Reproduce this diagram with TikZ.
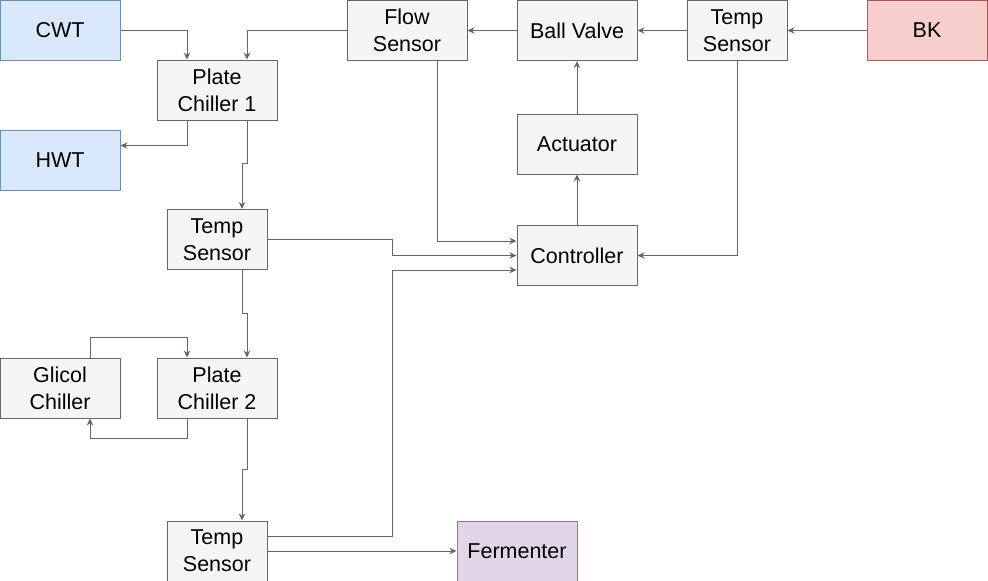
\documentclass[tikz,border=0pt]{standalone}
\usepackage{fontspec}
\setmainfont{Liberation Sans}
\usetikzlibrary{arrows.meta}
\definecolor{grayfill}{HTML}{F5F5F5}
\definecolor{graystroke}{HTML}{666666}
\definecolor{bluefill}{HTML}{DAE8FC}
\definecolor{bluestroke}{HTML}{6C8EBF}
\definecolor{redfill}{HTML}{F8CECC}
\definecolor{redstroke}{HTML}{B85450}
\definecolor{purplefill}{HTML}{E1D5E7}
\definecolor{purplestroke}{HTML}{9673A6}
\definecolor{linecol}{HTML}{666666}
\tikzset{
  box/.style={draw=graystroke, fill=grayfill, line width=1pt, minimum width=120pt, minimum height=60pt,
    inner sep=0pt, align=center, font=\fontsize{21.5}{27}\selectfont, text=black},
  narrow/.style={box, minimum width=100pt},
  bluebox/.style={box, draw=bluestroke, fill=bluefill},
  redbox/.style={box, draw=redstroke, fill=redfill},
  purplebox/.style={box, draw=purplestroke, fill=purplefill},
  conn/.style={draw=linecol, line width=0.9pt, -{Stealth[length=7pt,width=6.5pt]}},
}
\begin{document}
\begin{tikzpicture}[x=1pt,y=-1pt]
\useasboundingbox (0,0) rectangle (988,581);
\node[bluebox] (cwt) at (60,30.5) {CWT};
\node[bluebox] (hwt) at (60,160.5) {HWT};
\node[box] (pc1) at (217,90) {Plate\\Chiller 1};
\node[narrow] (ts1) at (217,239.5) {Temp\\Sensor};
\node[box] (gc) at (60,388) {Glicol\\Chiller};
\node[box] (pc2) at (217,388) {Plate\\Chiller 2};
\node[narrow] (ts2) at (217,551) {Temp\\Sensor};
\node[purplebox] (ferm) at (517,551) {Fermenter};
\node[box] (flow) at (407,30.5) {Flow\\Sensor};
\node[box] (bv) at (577,30.5) {Ball Valve};
\node[narrow] (tst) at (737,30.5) {Temp\\Sensor};
\node[redbox] (bk) at (927,30.5) {BK};
\node[box] (act) at (577,144) {Actuator};
\node[box] (ctrl) at (577,255.5) {Controller};

\coordinate (j1) at (392,0);
\coordinate (c1) at ([yshift=14.5pt]ctrl.west);
\coordinate (c3) at ([yshift=-14.5pt]ctrl.west);

% top chain
\draw[conn] (bk.west) -- (tst.east);
\draw[conn] (tst.west) -- (bv.east);
\draw[conn] (bv.west) -- (flow.east);
\draw[conn] (act.north) -- (bv.south);
\draw[conn] (ctrl.north) -- (act.south);

% into plate chiller 1
\draw[conn] (cwt.east) -| ([xshift=-30pt]pc1.north);
\draw[conn] (flow.west) -| ([xshift=30pt]pc1.north);
\draw[conn] ([xshift=-30pt]pc1.south) |- ([yshift=15pt]hwt.east);
\draw[conn] ([xshift=30pt]pc1.south) -- ([xshift=30pt,yshift=-43pt]pc1.south) -| ([xshift=25pt]ts1.north);

% controller inputs
\draw[conn] ([xshift=30pt]flow.south) |- (c1);
\draw[conn] (ts1.east) -| (j1 |- ctrl.west) -- (ctrl.west);
\draw[conn] ([yshift=15pt]ts2.east) -| (c3 -| j1) -- (c3);
\draw[conn] (tst.south) |- (ctrl.east);

% plate chiller 2 loop
\draw[conn] ([xshift=25pt]ts1.south) -- ([xshift=25pt,yshift=-43pt]ts1.south) -| ([xshift=30pt]pc2.north);
\draw[conn] ([xshift=30pt]gc.north) -- ([xshift=30pt,yshift=20pt]gc.north) -| ([xshift=-30pt]pc2.north);
\draw[conn] ([xshift=-30pt]pc2.south) -- ([xshift=-30pt,yshift=-20pt]pc2.south) -| ([xshift=30pt]gc.south);
\draw[conn] ([xshift=30pt]pc2.south) -- ([xshift=30pt,yshift=-51pt]pc2.south) -| ([xshift=25pt]ts2.north);

% to fermenter
\draw[conn] (ts2.east) -- (ferm.west);
\end{tikzpicture}
\end{document}
